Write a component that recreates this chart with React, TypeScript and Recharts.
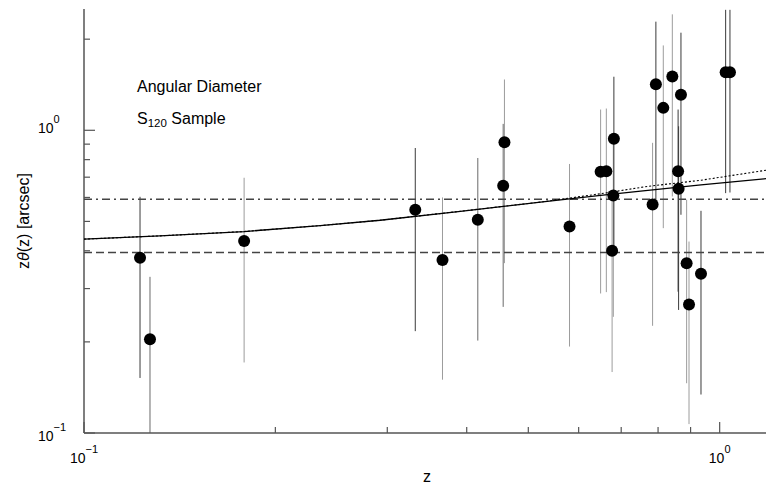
import React from 'react';
import { ScatterChart, Scatter, XAxis, YAxis, ErrorBar } from 'recharts';

// ---- data ----
const zValues = [0.1225, 0.127, 0.1786, 0.332, 0.3664, 0.4164, 0.4565, 0.4586, 0.5805, 0.6497, 0.6633, 0.6817, 0.6803, 0.6773, 0.7843, 0.7937, 0.8153, 0.8424, 0.8692, 0.8602, 0.8618, 0.8872, 0.8949, 0.9346, 1.0219, 1.038];
const thetaValues = [0.379, 0.204, 0.431, 0.546, 0.373, 0.506, 0.656, 0.913, 0.481, 0.729, 0.732, 0.937, 0.609, 0.4, 0.569, 1.42, 1.186, 1.506, 1.31, 0.732, 0.641, 0.364, 0.266, 0.336, 1.556, 1.556];
const thetaLow = [0.152, 0.1, 0.171, 0.217, 0.15, 0.202, 0.261, 0.364, 0.193, 0.289, 0.292, 0.403, 0.242, 0.159, 0.226, 0.5675, 0.475, 0.6045, 0.526, 0.293, 0.255, 0.146, 0.107, 0.134, 0.62, 0.623];
const thetaHigh = [0.603, 0.328, 0.697, 0.874, 0.6, 0.81, 1.05, 1.472, 0.774, 1.171, 1.18, 1.503, 0.932, 0.612, 0.909, 2.285, 1.907, 2.416, 2.101, 1.171, 1.031, 0.59, 0.429, 0.542, 2.5, 2.5];
const barShade = ['dark', 'mid', 'light', 'dark', 'light', 'mid', 'mid', 'light', 'light', 'light', 'light', 'dark', 'light', 'light', 'light', 'dark', 'light', 'light', 'dark', 'dark', 'dark', 'light', 'light', 'dark', 'dark', 'dark'];

const solidZ = [0.1, 0.1317, 0.1786, 0.2353, 0.2924, 0.391, 0.5226, 0.6497, 0.751, 0.9346, 1.2];
const solidTheta = [0.4369, 0.448, 0.463, 0.4844, 0.5044, 0.5401, 0.5792, 0.6097, 0.63, 0.6599, 0.6941];
const dottedZ = [0.1, 0.1317, 0.1786, 0.2353, 0.2924, 0.391, 0.5226, 0.6497, 0.7693, 0.9346, 1.2];
const dottedTheta = [0.4369, 0.448, 0.463, 0.4844, 0.5044, 0.5401, 0.5792, 0.6172, 0.6525, 0.684, 0.7413];
const dashDotLevel = 0.592;
const dashedLevel = 0.395;

const xTicks = [0.1, 0.2, 0.3, 0.4, 0.5, 0.6, 0.7, 0.8, 0.9, 1];
const yTicks = [0.1, 0.2, 0.3, 0.4, 0.5, 0.6, 0.7, 0.8, 0.9, 1, 2];
const xDomain = [0.1, 1.2];
const yDomain = [0.1, 2.516];

// ---- derived tables ----
const points = zValues.map((z, i) => ({
  z,
  v: thetaValues[i],
  err: [thetaValues[i] - thetaLow[i], thetaHigh[i] - thetaValues[i]],
  shade: barShade[i],
}));
const byShade = (s: string) => points.filter((p) => p.shade === s);
const solidLine = solidZ.map((z, i) => ({ z, v: solidTheta[i] }));
const dottedLine = dottedZ.map((z, i) => ({ z, v: dottedTheta[i] }));
const dashDotLine = [{ z: xDomain[0], v: dashDotLevel }, { z: xDomain[1], v: dashDotLevel }];
const dashedLine = [{ z: xDomain[0], v: dashedLevel }, { z: xDomain[1], v: dashedLevel }];

const FONT = "'Liberation Sans', Arial, Helvetica, sans-serif";
const AXIS = '#555';
const SHADES: Record<string, string> = { dark: '#3a3a3a', mid: '#6a6a6a', light: '#9c9c9c' };

const isMajor = (v: number) => Math.abs(Math.log10(v) - Math.round(Math.log10(v))) < 1e-6;
const expLabel = (v: number) => {
  const e = Math.round(Math.log10(v));
  return e < 0 ? '\u2212' + -e : String(e);
};

const BottomTick = (props: any) => {
  const { x, y, payload } = props;
  const v = payload.value;
  const major = isMajor(v);
  return (
    <g>
      <line x1={x} x2={x} y1={y} y2={y - (major ? 11 : 6)} stroke={AXIS} strokeWidth={1.2} />
      {major && (
        <text x={x} y={y + 30} textAnchor="middle" fontSize={14} fontFamily={FONT} fill="#000">
          <tspan>10</tspan>
          <tspan dy={-10} fontSize={11}>{expLabel(v)}</tspan>
        </text>
      )}
    </g>
  );
};

const TopTick = (props: any) => {
  const { x, y, payload } = props;
  const major = isMajor(payload.value);
  return <line x1={x} x2={x} y1={y} y2={y + (major ? 11 : 6)} stroke={AXIS} strokeWidth={1.2} />;
};

const LeftTick = (props: any) => {
  const { x, y, payload } = props;
  const v = payload.value;
  const major = isMajor(v);
  return (
    <g>
      <line x1={x} x2={x + (major ? 11 : 6)} y1={y} y2={y} stroke={AXIS} strokeWidth={1.2} />
      {major && (
        <text x={x - 46} y={y + (v < 0.5 ? 8 : 3)} textAnchor="start" fontSize={14} fontFamily={FONT} fill="#000">
          <tspan>10</tspan>
          <tspan dy={-10} fontSize={11}>{expLabel(v)}</tspan>
        </text>
      )}
    </g>
  );
};

const RightTick = (props: any) => {
  const { x, y, payload } = props;
  const major = isMajor(payload.value);
  return <line x1={x} x2={x - (major ? 11 : 6)} y1={y} y2={y} stroke={AXIS} strokeWidth={1.2} />;
};

const Dot = (props: any) => <circle cx={props.cx} cy={props.cy} r={6} fill="#000" />;
const NoDot = () => <g />;

export default function App() {
  return (
    <div style={{ position: 'absolute', left: 0, top: 0, width: 766, height: 486, overflow: 'hidden', background: '#fff' }}>
      <ScatterChart width={770} height={486} margin={{ top: 9, right: 0, bottom: 0, left: 0 }}>
        <XAxis xAxisId="b" orientation="bottom" type="number" dataKey="z" scale="log" domain={xDomain} allowDataOverflow
          ticks={xTicks} interval={0} tick={(p: any) => <BottomTick {...p} />} tickLine={false} tickSize={0} tickMargin={0}
          axisLine={{ stroke: AXIS, strokeWidth: 1.5 }} height={53} />
        <XAxis xAxisId="t" orientation="top" type="number" dataKey="z" scale="log" domain={xDomain} allowDataOverflow
          ticks={xTicks} interval={0} tick={(p: any) => <TopTick {...p} />} tickLine={false} tickSize={0} tickMargin={0}
          axisLine={{ stroke: AXIS, strokeWidth: 1.5 }} height={0} />
        <YAxis yAxisId="l" orientation="left" type="number" dataKey="v" scale="log" domain={yDomain} allowDataOverflow
          ticks={yTicks} interval={0} tick={(p: any) => <LeftTick {...p} />} tickLine={false} tickSize={0} tickMargin={0}
          axisLine={{ stroke: AXIS, strokeWidth: 1.5 }} width={84} />
        <YAxis yAxisId="r" orientation="right" type="number" dataKey="v" scale="log" domain={yDomain} allowDataOverflow
          ticks={yTicks} interval={0} tick={(p: any) => <RightTick {...p} />} tickLine={false} tickSize={0} tickMargin={0}
          axisLine={{ stroke: AXIS, strokeWidth: 1.5 }} width={0} />

        <Scatter xAxisId="t" yAxisId="r" data={[{ z: 0.5, v: 0.5 }]} shape={NoDot} isAnimationActive={false} />

        <Scatter xAxisId="b" yAxisId="l" data={dashDotLine} shape={NoDot} isAnimationActive={false}
          line={{ stroke: '#444', strokeWidth: 1.5, strokeDasharray: '8 4 2 4' }} />
        <Scatter xAxisId="b" yAxisId="l" data={dashedLine} shape={NoDot} isAnimationActive={false}
          line={{ stroke: '#444', strokeWidth: 1.5, strokeDasharray: '8 4' }} />
        <Scatter xAxisId="b" yAxisId="l" data={dottedLine} shape={NoDot} isAnimationActive={false}
          line={{ stroke: '#000', strokeWidth: 1.1, strokeDasharray: '2 2' }} />
        <Scatter xAxisId="b" yAxisId="l" data={solidLine} shape={NoDot} isAnimationActive={false}
          line={{ stroke: '#000', strokeWidth: 1.3 }} />

        {['light', 'mid', 'dark'].map((s) => (
          <Scatter key={s} xAxisId="b" yAxisId="l" data={byShade(s)} shape={Dot} isAnimationActive={false}>
            <ErrorBar dataKey="err" direction="y" width={0} stroke={SHADES[s]} strokeWidth={1} isAnimationActive={false} />
          </Scatter>
        ))}
      </ScatterChart>
      <svg width={766} height={486} style={{ position: 'absolute', left: 0, top: 0, pointerEvents: 'none' }}>
        <g fontFamily={FONT} fill="#000">
          <text x={137} y={92} fontSize={16}>Angular Diameter</text>
          <text x={137} y={123.5} fontSize={16}>
            <tspan>S</tspan>
            <tspan fontSize={11.5} dy={3}>120</tspan>
            <tspan dy={-3}> Sample</tspan>
          </text>
          <text x={427} y={482} fontSize={16} textAnchor="middle">z</text>
          <text x={29} y={221} fontSize={16} textAnchor="middle" transform="rotate(-90 29 221)">
            <tspan>z</tspan>
            <tspan fontStyle="italic">θ</tspan>
            <tspan>(z) [arcsec]</tspan>
          </text>
        </g>
      </svg>
    </div>
  );
}
